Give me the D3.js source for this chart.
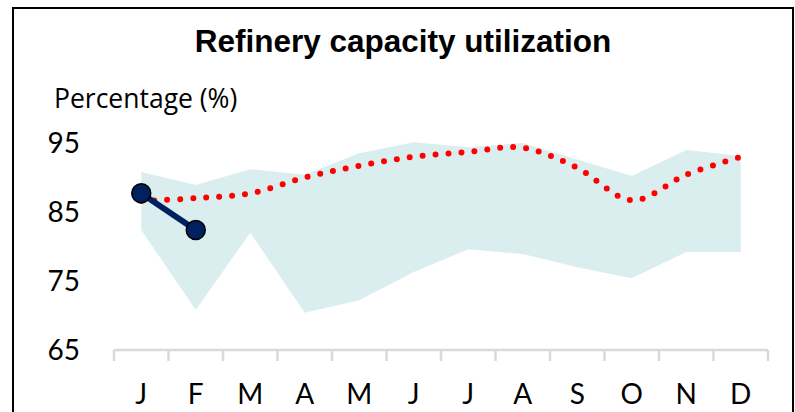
<!DOCTYPE html>
<html>
<head>
<meta charset="utf-8">
<script src="https://cdn.jsdelivr.net/npm/d3@7"></script>
<style>
  body { margin: 0; background: #fff; }
  svg { display: block; }
  .title { font-family: "Liberation Sans", Arial, sans-serif; font-weight: bold; font-size: 31.5px; fill: #000; }
  .label { font-family: Lato, "Open Sans", sans-serif; fill: #000; }
</style>
</head>
<body>
<div id="chart"></div>
<script>
const months = ["J", "F", "M", "A", "M", "J", "J", "A", "S", "O", "N", "D"];
const yTicks = [65, 75, 85, 95];

// shaded range (min / max of previous years)
const rangeHigh = [90.8, 88.9, 91.2, 90.4, 93.5, 95.1, 94.4, 95.0, 92.6, 90.2, 94.0, 93.1];
const rangeLow = [82.4, 70.8, 82.0, 70.4, 72.2, 76.3, 79.6, 78.9, 77.0, 75.4, 79.2, 79.2];
// average (red dotted)
const average = [86.6, 87.0, 87.7, 90.0, 91.7, 93.0, 93.7, 94.3, 91.4, 86.7, 90.4, 93.0];
// current year (navy)
const current = [87.7, 82.4, null, null, null, null, null, null, null, null, null, null];

const width = 795;
const height = 412;

const svg = d3.select("#chart").append("svg")
  .attr("width", width)
  .attr("height", height);

// outer frame
svg.append("rect")
  .attr("x", 13)
  .attr("y", 8)
  .attr("width", 780)
  .attr("height", 420)
  .attr("fill", "none")
  .attr("stroke", "#000")
  .attr("stroke-width", 2);

svg.append("text")
  .attr("class", "title")
  .attr("x", 403)
  .attr("y", 52)
  .attr("text-anchor", "middle")
  .text("Refinery capacity utilization");

svg.append("text")
  .attr("x", 54)
  .attr("y", 108)
  .style("font-family", "'Open Sans', sans-serif")
  .style("font-size", "26.5px")
  .text("Percentage (%)");

const x = d3.scaleBand()
  .domain(d3.range(months.length))
  .range([114, 768])
  .padding(0);

const y = d3.scaleLinear()
  .domain([65, 95])
  .range([350, 143]);

const cx = i => x(i) + x.bandwidth() / 2;

// range band
const area = d3.area()
  .x((d, i) => cx(i))
  .y0((d, i) => y(rangeLow[i]))
  .y1(d => y(d));

svg.append("path")
  .datum(rangeHigh)
  .attr("d", area)
  .attr("fill", "#daedef");

// average, smoothed dotted
const avgLine = d3.line()
  .x((d, i) => cx(i))
  .y(d => y(d))
  .curve(d3.curveCatmullRom.alpha(0));

svg.append("path")
  .datum(average)
  .attr("d", avgLine)
  .attr("fill", "none")
  .attr("stroke", "#ff0000")
  .attr("stroke-width", 6)
  .attr("stroke-linecap", "round")
  .attr("stroke-dasharray", "0 13");

// current year
const curLine = d3.line()
  .defined(d => d != null)
  .x((d, i) => cx(i))
  .y(d => y(d));

svg.append("path")
  .datum(current)
  .attr("d", curLine)
  .attr("fill", "none")
  .attr("stroke", "#002060")
  .attr("stroke-width", 6);

svg.selectAll(".marker")
  .data(current.map((v, i) => ({ v, i })).filter(d => d.v != null))
  .enter()
  .append("circle")
  .attr("class", "marker")
  .attr("cx", d => cx(d.i))
  .attr("cy", d => y(d.v))
  .attr("r", 9.5)
  .attr("fill", "#002060")
  .attr("stroke", "#000")
  .attr("stroke-width", 1.5);

// x axis
const xAxis = d3.axisBottom(x)
  .tickFormat(i => months[i])
  .tickSize(0)
  .tickPadding(0);

const gx = svg.append("g")
  .attr("transform", "translate(0,350)")
  .call(xAxis);

gx.select(".domain").remove();
gx.append("line")
  .attr("x1", 114).attr("x2", 768)
  .attr("y1", 0).attr("y2", 0)
  .attr("stroke", "#d9d9d9")
  .attr("stroke-width", 2.5);
gx.selectAll(".sep")
  .data(d3.range(months.length + 1))
  .enter()
  .append("line")
  .attr("class", "sep")
  .attr("x1", i => 114 + i * x.bandwidth())
  .attr("x2", i => 114 + i * x.bandwidth())
  .attr("y1", 0)
  .attr("y2", 11)
  .attr("stroke", "#d9d9d9")
  .attr("stroke-width", 2.5);
gx.selectAll(".tick text")
  .attr("class", "label")
  .attr("y", 54)
  .attr("dy", null)
  .attr("fill", "#000")
  .style("font-size", "28px");

// y labels (no axis line)
svg.selectAll(".ylab")
  .data(yTicks)
  .enter()
  .append("text")
  .attr("class", "label ylab")
  .attr("x", 80)
  .attr("y", d => y(d) + 10)
  .attr("text-anchor", "end")
  .style("font-size", "28px")
  .text(d => d);
</script>
</body>
</html>
